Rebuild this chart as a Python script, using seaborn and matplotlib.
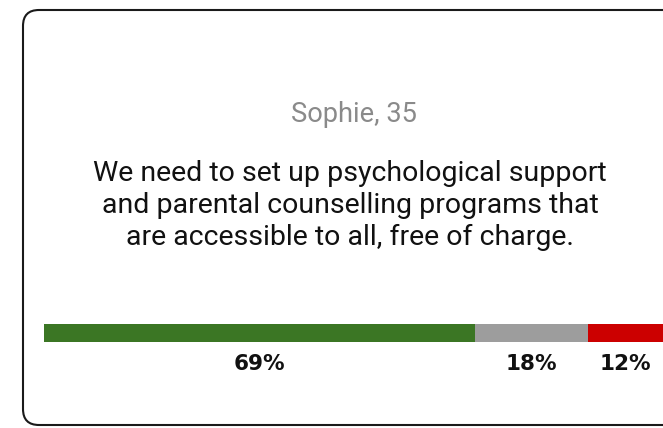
import matplotlib
matplotlib.use("Agg")
import matplotlib.pyplot as plt
import matplotlib.transforms as mtransforms
from matplotlib.patches import FancyBboxPatch
import pandas as pd
import seaborn as sns

# data
author = "Sophie, 35"
quote_lines = ["We need to set up psychological support",
               "and parental counselling programs that",
               "are accessible to all, free of charge."]
answers = ["Agree", "Neutral", "Disagree"]
shares = [69, 18, 12]
colors = ["#3b7624", "#9d9d9d", "#cc0000"]

W, H = 663, 428
sns.set_theme(style="white")
plt.rcParams["font.family"] = ["Roboto", "DejaVu Sans"]

fig = plt.figure(figsize=(W / 100, H / 100), dpi=100)
fig.patch.set_facecolor("white")

# card outline (pixel coordinates)
card = FancyBboxPatch((23, 3), 700, 415, boxstyle="round,pad=0,rounding_size=16",
                      transform=None, facecolor="white", edgecolor="#1a1a1a",
                      linewidth=1.5, zorder=-1)
fig.patches.append(card)

fig.text(354 / W, 1 - 122 / H, author, ha="center", va="baseline",
         fontsize=19.6, color="#8a8a8a")
for i, line in enumerate(quote_lines):
    fig.text(350 / W, 1 - (181 + 32 * i) / H, line, ha="center", va="baseline",
             fontsize=20.5, color="#111111")

# stacked bar: draw cumulative totals, largest first
cum = []
total = 0
for s in shares:
    total += s
    cum.append(total)
df = pd.DataFrame({"answer": answers, "cum": cum, "row": ["q"] * 3})

ax = fig.add_axes([44 / W, 1 - 342 / H, (W - 44) / W, 18 / H])
sns.barplot(data=df, x="cum", y="row", hue="answer",
            hue_order=answers[::-1], palette=dict(zip(answers, colors)),
            dodge=False, width=1.0, orient="h", ax=ax, legend=False,
            linewidth=0, saturation=1)
ax.set_xlim(0, sum(shares))
ax.set_ylim(0.5, -0.5)
ax.axis("off")

trans = mtransforms.blended_transform_factory(ax.transData, fig.transFigure)
start = 0
for s in shares:
    ax.text(start + s / 2, 1 - 370 / H, f"{s}%", transform=trans,
            ha="center", va="baseline", fontsize=15.5, fontweight="bold",
            family="DejaVu Sans", color="#111111")
    start += s

fig.savefig("out.png", dpi=100)
